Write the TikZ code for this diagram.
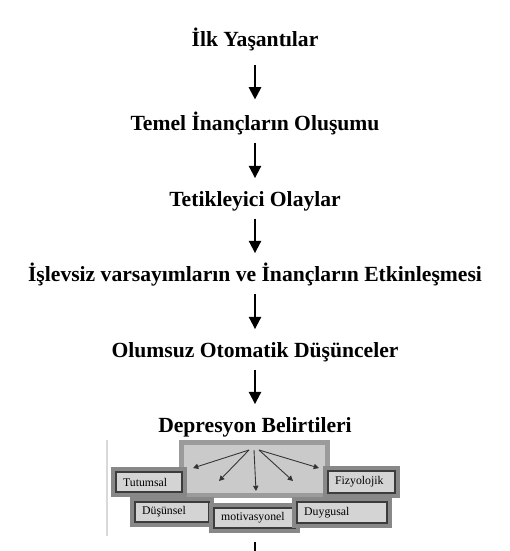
\documentclass[tikz,border=0pt]{standalone}
\usepackage{fontspec}
\setmainfont{Liberation Serif}
\usetikzlibrary{arrows.meta}
\definecolor{PanelFill}{RGB}{202,202,202}
\definecolor{PanelEdge}{RGB}{155,155,155}
\definecolor{BandGray}{RGB}{136,136,136}
\definecolor{BoxFill}{RGB}{212,212,212}
\definecolor{BoxEdge}{RGB}{60,60,60}

\begin{document}
\begin{tikzpicture}[x=0.02cm,y=-0.02cm,>=Latex]
\tikzstyle{title}=[font=\bfseries\fontsize{12.3}{14}\selectfont,inner sep=0pt,text height=8.7pt,text depth=2.5pt,anchor=base]
\tikzstyle{flow}=[-{Triangle[width=7pt,length=7pt]},line width=1.1pt,shorten <=4.5pt,shorten >=7pt]
\tikzstyle{spoke}=[-{Triangle[width=3pt,length=3pt]},line width=0.5pt,draw=black!80]
\tikzstyle{symptom}=[draw=BoxEdge,line width=0.8pt,fill=BoxFill,inner xsep=4pt,inner ysep=0pt,align=left,font=\fontsize{6.7}{8}\selectfont,preaction={draw=BandGray,line width=5.6pt}]
\useasboundingbox (0,0) rectangle (510,551);
% chain of stages
\node[title] (ilk) at (255,46) {İlk Yaşantılar};
\node[title] (temel) at (255,130) {Temel İnançların Oluşumu};
\node[title] (tetik) at (255,206) {Tetikleyici Olaylar};
\node[title] (islev) at (255,281) {İşlevsiz varsayımların ve İnançların Etkinleşmesi};
\node[title] (olumsuz) at (255,357) {Olumsuz Otomatik Düşünceler};
\node[title] (belirti) at (255,432) {Depresyon Belirtileri};
\draw[flow,shorten <=8.3pt,shorten >=8.5pt] (ilk) -- (temel);
\draw[flow] (temel) -- (tetik);
\draw[flow] (tetik) -- (islev);
\draw[flow] (islev) -- (olumsuz);
\draw[flow] (olumsuz) -- (belirti);
% symptom panel
\draw[black!15,line width=0.6pt] (107,440) -- (107,536);
\node[draw=PanelEdge,line width=2.85pt,fill=PanelFill,minimum width=82.8pt,minimum height=30pt,inner sep=0pt] (panel) at (254.5,469) {};
\node[symptom,text width=29.4pt,minimum height=11.3pt] (tutum) at (149,482) {Tutumsal};
\node[symptom,text width=30pt,minimum height=12.5pt] (fizyo) at (361.5,482) {Fizyolojik};
\node[symptom,text width=34pt,minimum height=11.3pt] (dusun) at (172,512) {Düşünsel};
\node[symptom,text width=37.9pt,minimum height=11.3pt] (motiv) at (254.5,518) {motivasyonel};
\node[symptom,text width=43pt,minimum height=11.9pt] (duygu) at (342,512.5) {Duygusal};
\coordinate (hubl) at (249,450);
\coordinate (hub) at (254,450);
\coordinate (hubr) at (259,450);
\coordinate (tipa) at (193,468);
\coordinate (tipb) at (219,481);
\coordinate (tipc) at (256,491);
\coordinate (tipd) at (293,481);
\coordinate (tipe) at (319,468);
\draw[spoke] (hubl) -- (tipa);
\draw[spoke] (hubl) -- (tipb);
\draw[spoke] (hub) -- (tipc);
\draw[spoke] (hubr) -- (tipd);
\draw[spoke] (hubr) -- (tipe);
\coordinate (stub) at (255,542);
\coordinate (stubend) at (255,551);
\draw[line width=0.6pt] (stub) -- (stubend);
\end{tikzpicture}
\end{document}
